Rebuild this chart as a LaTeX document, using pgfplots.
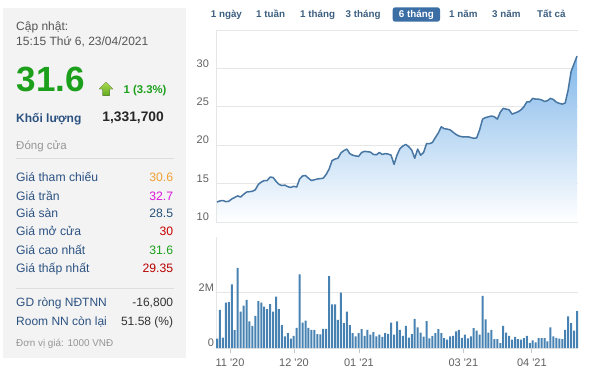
\documentclass[border=0pt]{standalone}
\usepackage{fontspec}
\setmainfont{Liberation Sans}
\usepackage{pgfplots}
\pgfplotsset{compat=1.18}
\usepackage{pgfplotstable}
\definecolor{panel}{RGB}{243,243,243}
\definecolor{sepc}{RGB}{222,222,222}
\definecolor{gridc}{RGB}{230,230,230}
\definecolor{tickc}{RGB}{96,96,96}
\definecolor{linec}{RGB}{72,118,163}
\definecolor{areac}{RGB}{130,184,234}
\definecolor{barc}{RGB}{72,130,178}
\definecolor{lblc}{RGB}{44,82,130}
\definecolor{btnc}{RGB}{61,95,128}
\definecolor{selc}{RGB}{58,110,165}
\definecolor{grn}{RGB}{28,160,28}
\definecolor{orng}{RGB}{240,160,50}
\definecolor{mag}{RGB}{220,20,220}
\definecolor{dblue}{RGB}{40,80,120}
\definecolor{redc}{RGB}{200,0,0}
\definecolor{dred}{RGB}{185,0,0}
\definecolor{grayt}{RGB}{85,85,85}
\definecolor{lgray}{RGB}{150,150,150}

\pgfplotstableread{
x y
0 12.6
1 12.75
2 12.8
3 12.65
4 12.7
5 13.0
6 13.2
7 13.4
8 13.25
9 13.6
10 13.9
11 13.95
12 14.0
13 14.2
14 14.9
15 15.2
16 15.4
17 15.4
18 15.85
19 15.8
20 15.3
21 14.9
22 14.75
23 14.8
24 14.6
25 14.5
26 14.65
27 14.55
28 15.6
29 16.0
30 16.05
31 15.7
32 15.4
33 15.5
34 15.6
35 15.65
36 15.7
37 16.2
38 16.9
39 18.0
40 18.2
41 18.3
42 19.0
43 19.3
44 19.5
45 18.9
46 18.7
47 18.6
48 18.55
49 19.05
50 19.2
51 19.15
52 19.1
53 18.8
54 18.75
55 19.05
56 18.8
57 18.9
58 18.85
59 18.7
60 17.5
61 18.7
62 19.55
63 19.9
64 20.1
65 19.8
66 19.35
67 18.3
68 19.5
69 18.7
70 19.05
71 20.2
72 20.2
73 20.35
74 21.0
75 21.6
76 22.4
77 22.15
78 22.1
79 22.0
80 21.7
81 21.4
82 21.2
83 21.1
84 21.1
85 21.1
86 21.0
87 20.9
88 20.95
89 22.0
90 23.4
91 23.6
92 23.7
93 23.8
94 23.7
95 23.4
96 24.3
97 24.8
98 24.7
99 24.6
100 24.05
101 24.2
102 24.35
103 24.6
104 25.0
105 25.65
106 25.65
107 26.1
108 26.0
109 26.0
110 25.9
111 25.7
112 25.8
113 26.1
114 25.95
115 25.6
116 25.45
117 25.35
118 25.5
119 27.2
120 29.6
121 30.6
122 31.6
}\price

\pgfplotstableread{
x v
0 0.34
1 1.38
2 0.38
3 1.64
4 1.66
5 2.30
6 0.65
7 2.90
8 1.32
9 1.53
10 1.74
11 0.96
12 0.80
13 1.16
14 1.70
15 1.64
16 1.50
17 1.41
18 1.59
19 1.32
20 1.86
21 1.41
22 0.83
23 0.42
24 0.54
25 0.34
26 0.44
27 0.73
28 2.66
29 0.92
30 0.99
31 0.73
32 0.66
33 0.66
34 0.50
35 0.49
36 0.69
37 0.69
38 2.60
39 1.58
40 1.58
41 1.02
42 2.00
43 0.90
44 1.32
45 0.83
46 0.54
47 0.42
48 0.54
49 0.68
50 0.44
51 0.66
52 0.48
53 0.57
54 0.42
55 0.48
56 0.40
57 0.54
58 0.51
59 0.92
60 0.48
61 0.96
62 0.66
63 0.44
64 0.80
65 0.38
66 0.50
67 1.05
68 0.75
69 0.56
70 0.41
71 0.97
72 0.35
73 0.44
74 0.54
75 0.68
76 0.54
77 0.36
78 0.30
79 0.42
80 0.44
81 0.60
82 0.66
83 0.37
84 0.48
85 0.35
86 0.42
87 0.72
88 0.63
89 0.48
90 1.89
91 1.04
92 0.56
93 0.66
94 0.32
95 0.32
96 0.18
97 0.80
98 0.56
99 0.44
100 0.30
101 0.40
102 0.32
103 0.30
104 0.36
105 0.44
106 0.18
107 0.28
108 0.20
109 0.36
110 0.36
111 0.36
112 0.24
113 0.75
114 0.42
115 0.37
116 0.34
117 0.32
118 0.66
119 1.14
120 0.90
121 0.63
122 1.33
}\vol

\newcommand{\TL}[5]{\node[anchor=base west,inner sep=0pt,text=#2,font=#1] at (#3pt,-#4pt) {#5};}
\newcommand{\TR}[5]{\node[anchor=base east,inner sep=0pt,text=#2,font=#1] at (#3pt,-#4pt) {#5};}
\newcommand{\TC}[5]{\node[anchor=base,inner sep=0pt,text=#2,font=#1] at (#3pt,-#4pt) {#5};}
\newcommand{\fs}[1]{\fontsize{#1}{#1}\selectfont}

\begin{document}
\begin{tikzpicture}
\path[use as bounding box] (0pt,0pt) rectangle (593pt,-375pt);
% left panel
\fill[panel] (3.3pt,-8.3pt) rectangle (185.7pt,-358pt);
\TL{\fs{12}}{grayt}{16}{30.7}{Cập nhật:}
\TL{\fs{12}}{grayt}{16}{45.7}{15:15 Thứ 6, 23/04/2021}
\TL{\fs{35}\bfseries}{grn}{16.5}{91.7}{31.6}
% up arrow
\fill[top color={rgb,255:red,170;green,220;blue,80}, bottom color={rgb,255:red,100;green,170;blue,30}]
  (99pt,-89pt) -- (106pt,-82pt) -- (113pt,-89pt) -- (109.5pt,-89pt) -- (109.5pt,-95.5pt) -- (102.5pt,-95.5pt) -- (102.5pt,-89pt) -- cycle;
\TL{\fs{11.3}\bfseries}{grn}{123.5}{93.2}{1 (3.3\%)}
\TL{\fs{12}\bfseries}{lblc}{16}{122.7}{Khối lượng}
\TR{\fs{13.8}\bfseries}{black!85}{164}{121.7}{1,331,700}
\TL{\fs{11.5}}{lgray}{16}{149.5}{Đóng cửa}
\draw[sepc] (16pt,-158pt) -- (174pt,-158pt);
\TL{\fs{12.2}}{lblc}{16}{181.7}{Giá tham chiếu}
\TR{\fs{12.2}}{orng}{173.3}{181.7}{30.6}
\TL{\fs{12.2}}{lblc}{16}{200}{Giá trần}
\TR{\fs{12.2}}{mag}{173.3}{200}{32.7}
\TL{\fs{12.2}}{lblc}{16}{217.8}{Giá sàn}
\TR{\fs{12.2}}{dblue}{173.3}{217.8}{28.5}
\TL{\fs{12.2}}{lblc}{16}{235.8}{Giá mở cửa}
\TR{\fs{12.2}}{redc}{173.3}{235.8}{30}
\TL{\fs{12.2}}{lblc}{16}{254}{Giá cao nhất}
\TR{\fs{12.2}}{grn}{173.3}{254}{31.6}
\TL{\fs{12.2}}{lblc}{16}{272.7}{Giá thấp nhất}
\TR{\fs{12.2}}{dred}{173.3}{272.7}{29.35}
\draw[sepc] (16pt,-288pt) -- (174pt,-288pt);
\TL{\fs{12}}{lblc}{16}{306.7}{GD ròng NĐTNN}
\TR{\fs{12}}{black!80}{173.3}{306.7}{-16,800}
\TL{\fs{12}}{lblc}{16}{325}{Room NN còn lại}
\TR{\fs{12}}{black!80}{173.3}{325}{51.58 (\%)}
\TL{\fs{9.9}}{lgray}{16}{346.7}{Đơn vị giá: 1000 VNĐ}
% range buttons
\fill[selc, rounded corners=2.5pt] (392.7pt,-7.3pt) rectangle (440pt,-21.7pt);
\TL{\fs{9.8}\bfseries}{btnc}{210.7}{17.6}{1 ngày}
\TL{\fs{9.8}\bfseries}{btnc}{256}{17.6}{1 tuần}
\TL{\fs{9.8}\bfseries}{btnc}{300}{17.6}{1 tháng}
\TL{\fs{9.8}\bfseries}{btnc}{345.5}{17.6}{3 tháng}
\TC{\fs{9.8}\bfseries}{white}{416.4}{17.6}{6 tháng}
\TL{\fs{9.8}\bfseries}{btnc}{449}{17.6}{1 năm}
\TL{\fs{9.8}\bfseries}{btnc}{492}{17.6}{3 năm}
\TL{\fs{9.8}\bfseries}{btnc}{537}{17.6}{Tất cả}

% price axis
\begin{axis}[at={(216pt,-222pt)}, anchor=south west, scale only axis,
  width=362pt, height=192pt,
  xmin=-0.34, xmax=122.34, ymin=10, ymax=35,
  xtick=\empty,
  ytick={10,15,20,25,30,35}, yticklabels={10,15,20,25,30,},
  ymajorgrids, grid style={gridc, line width=0.8pt},
  axis x line=none, axis y line*=left,
  y axis line style={-, draw=gridc, line width=0.8pt},
  ytick style={draw=none}, major tick length=0pt,
  yticklabel style={font=\fs{11}, text=tickc, yshift=5pt, xshift=-3.5pt},
  /pgf/number format/assume math mode=true]
\addplot[draw=none, top color=areac, bottom color=white] table[x=x,y=y]{\price} \closedcycle;
\addplot[line width=1.5pt, linec, line join=round, mark=none] table[x=x,y=y]{\price};
\end{axis}

% volume axis
\begin{axis}[at={(216pt,-348pt)}, anchor=south west, scale only axis,
  width=362pt, height=110.6pt,
  xmin=-0.34, xmax=122.34, ymin=0, ymax=4,
  ytick={0,2}, yticklabels={0,2M},
  xtick={4.4,26.1,48.1,83.5,106.7},
  xticklabels={11 \textquotesingle 20, 12 \textquotesingle 20, 01 \textquotesingle 21, 03 \textquotesingle 21, 04 \textquotesingle 21},
  ymajorgrids, grid style={gridc, line width=0.8pt},
  axis x line*=bottom, axis y line*=left,
  axis line style={-, draw=gridc, line width=0.8pt},
  ytick style={draw=none},
  xtick style={draw=gridc!70!gray, line width=0.8pt},
  xtick align=outside, major tick length=5pt,
  yticklabel style={font=\fs{11}, text=tickc, yshift=5pt, xshift=1.5pt},
  xticklabel style={font=\fs{11}, text=tickc, yshift=-2.4pt},
  /pgf/number format/assume math mode=true]
\addplot[ybar, bar width=2pt, bar shift=0pt, fill=barc, draw=none] table[x=x,y=v]{\vol};
\end{axis}
\end{tikzpicture}
\end{document}
